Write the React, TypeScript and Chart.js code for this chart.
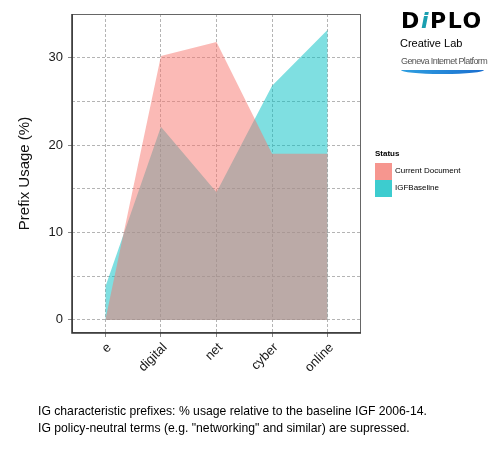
import { useEffect, useRef } from 'react';
import { Chart, registerables } from 'chart.js';

Chart.register(...registerables);

const categories = ['e', 'digital', 'net', 'cyber', 'online'];
const currentDocument = [0, 30.2, 31.8, 19.0, 19.0];
const igfBaseline = [3.8, 22.1, 14.6, 26.8, 33.2];
const yTickLabels = [0, 10, 20, 30];

const FONT = '"Liberation Sans", Arial, sans-serif';

// panel border drawn over everything (ggplot-like box)
const panelBorder = {
  id: 'panelBorder',
  afterDraw(chart: Chart) {
    const { ctx, chartArea } = chart;
    ctx.save();
    ctx.strokeStyle = '#666';
    ctx.lineWidth = 1;
    ctx.strokeRect(chartArea.left + 0.5, chartArea.top + 0.5, chartArea.right - chartArea.left - 1, chartArea.bottom - chartArea.top - 1);
    ctx.strokeStyle = '#333';
    ctx.lineWidth = 1.5;
    ctx.beginPath();
    ctx.moveTo(chartArea.left, chartArea.top);
    ctx.lineTo(chartArea.left, chartArea.bottom);
    ctx.lineTo(chartArea.right, chartArea.bottom);
    ctx.stroke();
    ctx.restore();
  },
};

export default function App() {
  const chartRef = useRef<HTMLCanvasElement>(null);
  const chartInstance = useRef<Chart | null>(null);

  useEffect(() => {
    if (!chartRef.current) return;
    if (chartInstance.current) chartInstance.current.destroy();
    const ctx = chartRef.current.getContext('2d');
    if (!ctx) return;

    chartInstance.current = new Chart(ctx, {
      type: 'line',
      data: {
        datasets: [
          {
            label: 'Current Document',
            data: categories.map((_, i) => ({ x: i, y: currentDocument[i] })),
            backgroundColor: 'rgba(248, 118, 109, 0.5)',
            borderWidth: 0,
            pointRadius: 0,
            fill: 'origin',
            tension: 0,
          },
          {
            label: 'IGFBaseline',
            data: categories.map((_, i) => ({ x: i, y: igfBaseline[i] })),
            backgroundColor: 'rgba(0, 191, 196, 0.5)',
            borderWidth: 0,
            pointRadius: 0,
            fill: 'origin',
            tension: 0,
          },
        ],
      },
      options: {
        responsive: false,
        animation: false,
        layout: { padding: { left: 0, top: 14, right: 139, bottom: 57 } },
        plugins: {
          legend: { display: false },
          tooltip: { enabled: false },
        },
        scales: {
          x: {
            type: 'linear',
            min: -0.6,
            max: 4.6,
            afterFit: (scale: any) => { scale.height = 60; },
            border: { display: false, dash: [3, 2] },
            grid: {
              color: '#b4b4b4',
              tickColor: '#888',
              tickLength: 4,
              tickBorderDash: [],
            },
            ticks: {
              stepSize: 1,
              includeBounds: false,
              autoSkip: false,
              minRotation: 45,
              maxRotation: 45,
              padding: 3,
              labelOffset: 4,
              color: '#1a1a1a',
              font: { family: FONT, size: 13 },
              callback: (v: any) => categories[v] ?? '',
            },
          },
          y: {
            min: -1.5,
            max: 35,
            afterFit: (scale: any) => { scale.width = 72; },
            border: { display: false, dash: [3, 2] },
            grid: {
              color: '#b4b4b4',
              tickColor: (c: any) => (yTickLabels.includes(c.tick?.value) ? '#888' : 'rgba(0,0,0,0)'),
              tickLength: 4,
              tickBorderDash: [],
            },
            ticks: {
              stepSize: 5,
              includeBounds: false,
              padding: 5,
              color: '#1a1a1a',
              font: { family: FONT, size: 13 },
              callback: (v: any) => (yTickLabels.includes(v) ? String(v) : ''),
            },
            title: {
              display: true,
              text: 'Prefix Usage (%)',
              color: '#111',
              font: { family: FONT, size: 15 },
              padding: { top: 16, bottom: 0 },
            },
          },
        },
      },
      plugins: [panelBorder],
    });

    return () => {
      if (chartInstance.current) {
        chartInstance.current.destroy();
        chartInstance.current = null;
      }
    };
  }, []);

  return (
    <div style={{ position: 'fixed', left: 0, top: 0, width: 500, height: 450, background: '#fff', fontFamily: FONT }}>
      <canvas ref={chartRef} width={500} height={450} style={{ position: 'absolute', left: 0, top: 0 }} />

      {/* logo */}
      <div style={{ position: 'absolute', left: 401, top: 8, fontWeight: 900, fontSize: 22, letterSpacing: 1.6, color: '#000', lineHeight: '26px', fontFamily: '"DejaVu Sans", sans-serif' }}>
        D<span style={{ color: '#1a9fb0', fontStyle: 'italic' }}>i</span>PLO
      </div>
      <div style={{ position: 'absolute', left: 400, top: 37, fontSize: 11, color: '#000' }}>Creative Lab</div>
      <div style={{ position: 'absolute', left: 401, top: 56, fontSize: 9, color: '#555', letterSpacing: -0.6, fontFamily: '"Liberation Sans Narrow", "Liberation Sans", sans-serif' }}>Geneva Internet Platform</div>
      <div style={{ position: 'absolute', left: 401, top: 70, width: 83, height: 4, borderRadius: '0 0 40px 40px / 0 0 4px 4px', background: 'linear-gradient(90deg, #2f9fe0, #1a6fd0)' }} />

      {/* legend */}
      <div style={{ position: 'absolute', left: 375, top: 149, fontSize: 8, fontWeight: 'bold', color: '#000' }}>Status</div>
      <div style={{ position: 'absolute', left: 375, top: 163, width: 17, height: 17, background: '#f6968f' }} />
      <div style={{ position: 'absolute', left: 375, top: 180, width: 17, height: 17, background: '#3dcccf' }} />
      <div style={{ position: 'absolute', left: 395, top: 166, fontSize: 8, color: '#000' }}>Current Document</div>
      <div style={{ position: 'absolute', left: 395, top: 183, fontSize: 8, color: '#000' }}>IGFBaseline</div>

      {/* caption */}
      <div style={{ position: 'absolute', left: 38, top: 403, fontSize: 12.2, color: '#000', lineHeight: '17px' }}>
        IG characteristic prefixes: % usage relative to the baseline IGF 2006-14.
        <br />
        IG policy-neutral terms (e.g. "networking" and similar) are supressed.
      </div>
    </div>
  );
}
